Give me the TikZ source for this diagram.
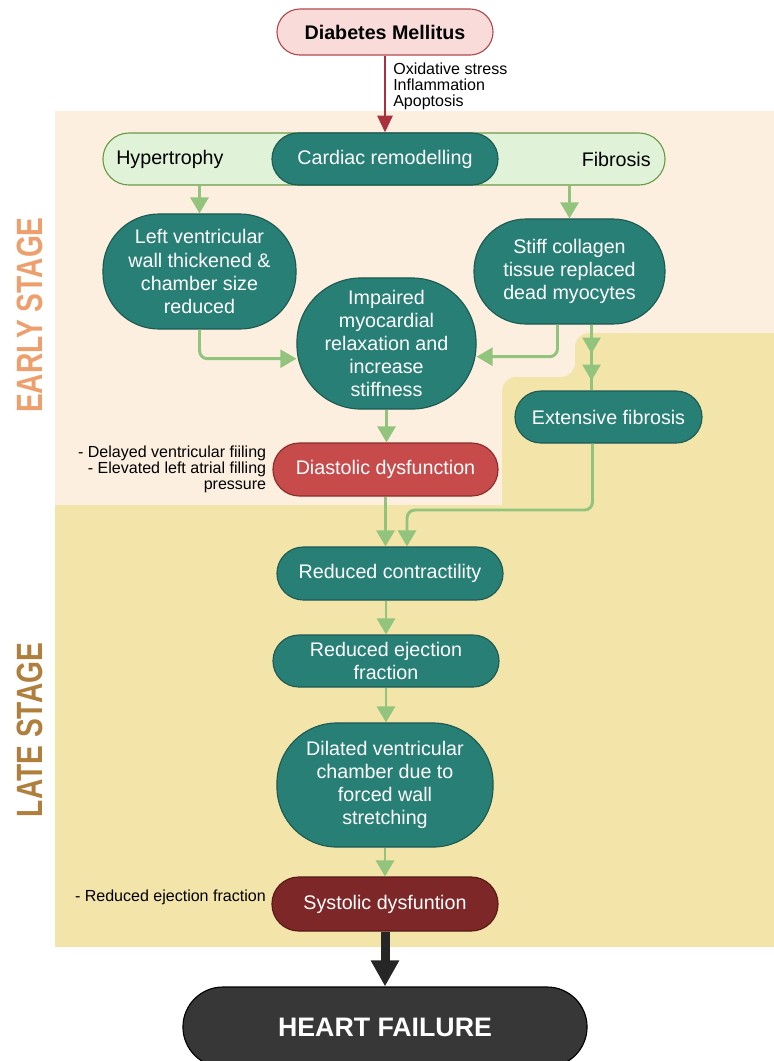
\documentclass[tikz,border=0pt]{standalone}
\usepackage{fontspec}
\setmainfont{Liberation Sans}
\usepackage{tikz}
\usetikzlibrary{positioning, calc, arrows.meta, decorations.markings}

\definecolor{earlybg}{HTML}{FCEFDF}
\definecolor{latebg}{HTML}{F3E4A9}
\definecolor{tealfill}{HTML}{277F76}
\definecolor{tealline}{HTML}{1D5A52}
\definecolor{remodfill}{HTML}{E0F2D8}
\definecolor{remodline}{HTML}{6A9A48}
\definecolor{dmfill}{HTML}{F9DCDA}
\definecolor{dmline}{HTML}{B04A4E}
\definecolor{dmarrow}{HTML}{A8313F}
\definecolor{diafill}{HTML}{C84B4B}
\definecolor{dialine}{HTML}{8A2C2C}
\definecolor{sysfill}{HTML}{7E2728}
\definecolor{sysline}{HTML}{561818}
\definecolor{hffill}{HTML}{373737}
\definecolor{hfarrow}{HTML}{262626}
\definecolor{linkgreen}{HTML}{93C47D}
\definecolor{earlytxt}{HTML}{EDA06E}
\definecolor{latetxt}{HTML}{B07F3D}

\newcommand{\bodysize}{\fontsize{14}{16.4}\selectfont}
\newcommand{\notesize}{\fontsize{11.4}{11.4}\selectfont}

\begin{document}
\begin{tikzpicture}[x=0.025cm, y=-0.025cm, inner sep=0pt, font=\bodysize,
    >={Triangle[length=11.4pt,width=12.8pt]}]

    % Styles for boxes, links and side notes
    \tikzset{
        pill/.style={draw=tealline, fill=tealfill, text=white, line width=0.8pt, align=center},
        greenline/.style={color=linkgreen, line width=2.1pt},
        greenarrow/.style={greenline, ->},
        twoheads/.style={
            decoration={markings,
                mark=at position 0.44 with {\arrow{>}},
                mark=at position 0.85 with {\arrow{>}}},
            postaction={decorate}
        },
        notetxt/.style={font=\notesize, align=right},
        stagetxt/.style={rotate=90, xscale=0.77, transform shape, font=\bfseries\fontsize{26}{26}\selectfont}
    }

    \useasboundingbox (0,0) rectangle (774,1061);
    \clip (0,0) rectangle (774,1061);

    % ==========================================
    % Stage backgrounds
    % ==========================================
    \fill[earlybg] (55,111) rectangle (774,505);
    \fill[latebg] (55,947) -- (55,505) -- (502,505) [rounded corners=0.35cm] -- (502,377)
        -- (575,377) -- (575,333) [sharp corners] -- (774,333) -- (774,947) -- cycle;

    \node[stagetxt, text=earlytxt] (early) at (30,315) {EARLY STAGE};
    \node[stagetxt, text=latetxt] (late) at (30,730) {LATE STAGE};

    % ==========================================
    % Top: cause and remodelling
    % ==========================================
    \node[draw=dmline, fill=dmfill, line width=0.8pt, rounded corners=0.575cm,
        minimum width=5.4cm, minimum height=1.15cm, font=\bodysize\bfseries] (dm) at (385,32) {Diabetes Mellitus};

    \node[draw=remodline, fill=remodfill, line width=0.8pt, rounded corners=0.65cm,
        minimum width=14.05cm, minimum height=1.3cm] (remodbar) at (384,159) {};
    \node[anchor=west] (hyper) at (116,159) {Hypertrophy};
    \node[anchor=east] (fibro) at (651,159) {Fibrosis};
    \node[pill, minimum width=5.65cm, minimum height=1.3cm, rounded corners=0.65cm] (remod) at (385,159) {Cardiac remodelling};

    \draw[dmarrow, line width=2.1pt, -{Triangle[length=12pt,width=10.7pt]}] (dm) -- (remod);
    \node[notetxt, align=left, anchor=west] (dmnote) at (393,86) {Oxidative stress\\Inflammation\\Apoptosis};

    % ==========================================
    % Early stage
    % ==========================================
    \node[pill, minimum width=4.825cm, minimum height=2.875cm, rounded corners=1.4cm] (lvwall) at (199.5,271.5)
        {Left ventricular\\wall thickened \&\\chamber size\\reduced};
    \node[pill, minimum width=4.775cm, minimum height=2.625cm, rounded corners=1.3cm] (collagen) at (569.5,271.5)
        {Stiff collagen\\tissue replaced\\dead myocytes};
    \node[pill, minimum width=4.475cm, minimum height=3.275cm, rounded corners=1.6cm] (impaired) at (386.5,343.5)
        {Impaired\\myocardial\\relaxation and\\increase\\stiffness};
    \node[pill, minimum width=4.675cm, minimum height=1.3cm, rounded corners=0.65cm] (extfib) at (608.5,417) {Extensive fibrosis};
    \node[pill, draw=dialine, fill=diafill, minimum width=5.625cm, minimum height=1.325cm, rounded corners=0.66cm] (diastolic) at (385.5,469.5)
        {Diastolic dysfunction};
    \node[notetxt, left=0.15cm of diastolic] (dianote) {- Delayed ventricular fiiling\\- Elevated left atrial filling\\pressure};

    \draw[greenarrow] (lvwall.north |- remodbar.south) -- (lvwall.north);
    \draw[greenarrow] (collagen.north |- remodbar.south) -- (collagen.north);
    \draw[greenarrow, rounded corners=0.2cm] (lvwall.south) |- ([yshift=-0.38cm]impaired.west);
    \draw[greenarrow, rounded corners=0.2cm] ([xshift=-0.3cm]collagen.south) |- ([yshift=-0.33cm]impaired.east);
    \coordinate (fibtop) at ([xshift=0.55cm]collagen.south);
    \draw[greenline, twoheads] (fibtop) -- (fibtop |- extfib.north);
    \draw[greenarrow] (impaired.south) -- (impaired.south |- diastolic.north);

    % ==========================================
    % Late stage
    % ==========================================
    \node[pill, minimum width=5.65cm, minimum height=1.325cm, rounded corners=0.66cm] (contract) at (390,573.5) {Reduced contractility};
    \node[pill, minimum width=5.65cm, minimum height=1.3cm, rounded corners=0.65cm] (ejection) at (386,661) {Reduced ejection\\fraction};
    \node[pill, minimum width=5.4cm, minimum height=3.1cm, rounded corners=1.5cm] (dilated) at (385,785)
        {Dilated ventricular\\chamber due to\\forced wall\\stretching};
    \node[pill, draw=sysline, fill=sysfill, minimum width=5.65cm, minimum height=1.35cm, rounded corners=0.67cm] (systolic) at (385,904)
        {Systolic dysfuntion};
    \node[notetxt, anchor=east] (sysnote) at (266,897) {- Reduced ejection fraction};

    \draw[greenarrow] (diastolic.south) -- (diastolic.south |- contract.north);
    \coordinate (fibout) at ([xshift=-0.4cm]extfib.south);
    \coordinate (joinpt) at (407,510);
    \draw[greenarrow, rounded corners=0.2cm] (fibout) |- (joinpt) -- (joinpt |- contract.north);
    \draw[greenarrow] (ejection.north |- contract.south) -- (ejection.north);
    \draw[greenarrow] (ejection.south) -- (ejection.south |- dilated.north);
    \draw[greenarrow] (dilated.south) -- (dilated.south |- systolic.north);

    % ==========================================
    % Outcome
    % ==========================================
    \node[draw=black, fill=hffill, line width=0.8pt, rounded corners=1.0cm, minimum width=10.1cm, minimum height=2.0cm,
        text=white, font=\bfseries\fontsize{19}{19}\selectfont] (hf) at (385,1027) {HEART FAILURE};
    \draw[hfarrow, line width=6.4pt, -{Triangle[length=18.5pt,width=19pt]}] (systolic.south) -- (hf.north);

\end{tikzpicture}
\end{document}
